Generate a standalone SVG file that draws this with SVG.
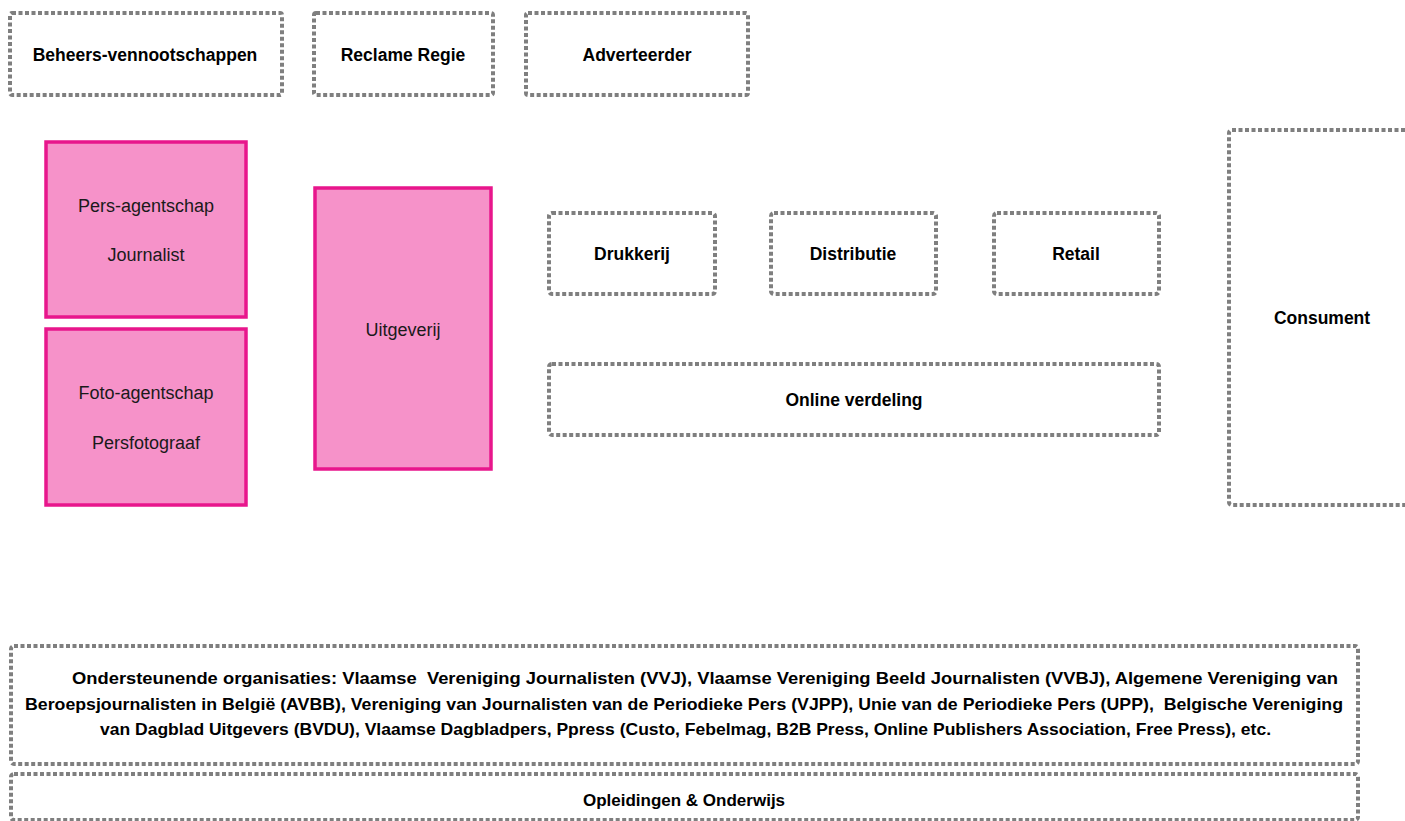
<svg xmlns="http://www.w3.org/2000/svg" width="1405" height="821" viewBox="0 0 1405 821">
<style>
.dash{fill:#fff;stroke:#7f7f7f;stroke-width:4;stroke-dasharray:4 2.5}
.pink{fill:#f692c9;stroke:#e8168c;stroke-width:3.5}
.b{font-family:"Liberation Sans",Arial,sans-serif;font-weight:bold;font-size:17.5px;fill:#000;text-anchor:middle}
.r{font-family:"Liberation Sans",Arial,sans-serif;font-size:18px;fill:#1a1a1a;text-anchor:middle}
.s{font-family:"Liberation Sans",Arial,sans-serif;font-weight:bold;font-size:16.5px;fill:#000}
</style>
<rect width="1405" height="821" fill="#fff"/>
<g id="connectors"/>
<g id="beheers">
<rect class="dash" x="10" y="13" width="272" height="82" rx="2"/>
<text class="b" x="145" y="61">Beheers-vennootschappen</text>
</g>
<g id="reclame">
<rect class="dash" x="314" y="13" width="179" height="82" rx="2"/>
<text class="b" x="403" y="61">Reclame Regie</text>
</g>
<g id="adverteerder">
<rect class="dash" x="526" y="13" width="222" height="82" rx="2"/>
<text class="b" x="637" y="61">Adverteerder</text>
</g>
<g id="persagentschap">
<rect class="pink" x="46" y="142" width="200" height="175"/>
<text class="r" x="146" y="212">Pers-agentschap</text>
<text class="r" x="146" y="261">Journalist</text>
</g>
<g id="fotoagentschap">
<rect class="pink" x="46" y="329" width="200" height="176"/>
<text class="r" x="146" y="399">Foto-agentschap</text>
<text class="r" x="146" y="449">Persfotograaf</text>
</g>
<g id="uitgeverij">
<rect class="pink" x="315" y="188" width="176" height="281"/>
<text class="r" x="403" y="336">Uitgeverij</text>
</g>
<g id="drukkerij">
<rect class="dash" x="549" y="213" width="166" height="81" rx="3"/>
<text class="b" x="632" y="260">Drukkerij</text>
</g>
<g id="distributie">
<rect class="dash" x="771" y="213" width="165" height="81" rx="3"/>
<text class="b" x="853" y="260">Distributie</text>
</g>
<g id="retail">
<rect class="dash" x="994" y="213" width="165" height="81" rx="3"/>
<text class="b" x="1076" y="260">Retail</text>
</g>
<g id="online">
<rect class="dash" x="549" y="364" width="610" height="71" rx="3"/>
<text class="b" x="854" y="406">Online verdeling</text>
</g>
<g id="consument">
<rect class="dash" x="1229" y="130" width="190" height="375" rx="3"/>
<text class="b" x="1322" y="324">Consument</text>
</g>
<g id="ondersteunende">
<rect class="dash" x="11" y="646" width="1347" height="118" rx="3"/>
<text class="s" x="72" y="684" textLength="1266" lengthAdjust="spacingAndGlyphs" xml:space="preserve">Ondersteunende organisaties: Vlaamse  Vereniging Journalisten (VVJ), Vlaamse Vereniging Beeld Journalisten (VVBJ), Algemene Vereniging van</text>
<text class="s" x="25" y="710" textLength="1318" lengthAdjust="spacingAndGlyphs" xml:space="preserve">Beroepsjournalisten in België (AVBB), Vereniging van Journalisten van de Periodieke Pers (VJPP), Unie van de Periodieke Pers (UPP),  Belgische Vereniging</text>
<text class="s" x="100" y="735" textLength="1171" lengthAdjust="spacingAndGlyphs" xml:space="preserve">van Dagblad Uitgevers (BVDU), Vlaamse Dagbladpers, Ppress (Custo, Febelmag, B2B Press, Online Publishers Association, Free Press), etc.</text>
</g>
<g id="opleidingen">
<rect class="dash" x="11" y="774" width="1347" height="46" rx="3"/>
<text class="s" x="684" y="806" text-anchor="middle" style="font-size:17px">Opleidingen &amp; Onderwijs</text>
</g>
</svg>
